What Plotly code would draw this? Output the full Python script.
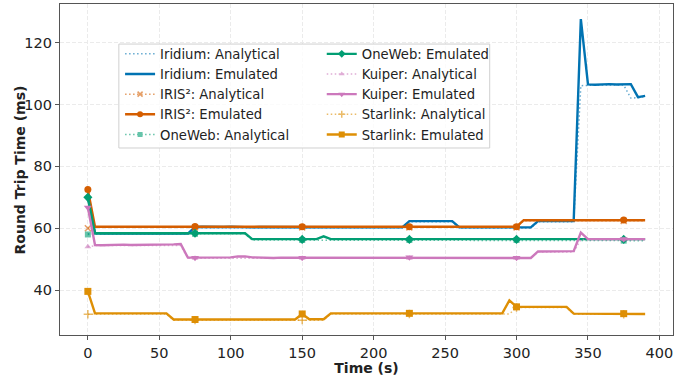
import plotly.graph_objects as go

time_s = [0, 5, 10, 15, 20, 25, 30, 35, 40, 45, 50, 55, 60, 65, 70, 75, 80, 85, 90, 95,
          100, 105, 110, 115, 120, 125, 130, 135, 140, 145, 150, 155, 160, 165, 170, 175, 180, 185, 190, 195,
          200, 205, 210, 215, 220, 225, 230, 235, 240, 245, 250, 255, 260, 265, 270, 275, 280, 285, 290, 295,
          300, 305, 310, 315, 320, 325, 330, 335, 340, 345, 350, 355, 360, 365, 370, 375, 380, 385, 390]

iridium_emulated = [70.0, 58.4, 58.3, 58.4, 58.4, 58.3, 58.4, 58.4, 58.3, 58.4,
                    58.4, 58.3, 58.4, 58.4, 58.3, 60.4, 60.5, 60.4, 60.5, 60.4,
                    60.5, 60.4, 60.4, 60.3, 60.4, 60.4, 60.3, 60.4, 60.4, 60.3,
                    60.4, 60.3, 60.4, 60.3, 60.3, 60.4, 60.3, 60.3, 60.4, 60.3,
                    60.3, 60.3, 60.4, 60.3, 60.3, 62.3, 62.3, 62.4, 62.3, 62.4,
                    62.3, 62.3, 60.3, 60.3, 60.2, 60.3, 60.3, 60.2, 60.3, 60.3,
                    60.3, 60.3, 60.3, 62.3, 62.4, 62.3, 62.4, 62.3, 62.3, 127.6,
                    106.5, 106.4, 106.6, 106.6, 106.5, 106.6, 106.6, 102.4, 102.8]
iridium_analytical = [58.2, 58.2, 58.2, 58.2, 58.2, 58.2, 58.2, 58.2, 58.2, 58.2,
                      58.2, 58.2, 58.2, 58.2, 58.2, 60.2, 60.2, 60.2, 60.2, 60.2,
                      60.2, 60.2, 60.2, 60.2, 60.2, 60.2, 60.2, 60.2, 60.2, 60.2,
                      60.2, 60.2, 60.2, 60.2, 60.2, 60.2, 60.2, 60.2, 60.2, 60.2,
                      60.2, 60.2, 60.2, 60.2, 60.2, 62.1, 62.1, 62.1, 62.1, 62.1,
                      62.1, 62.1, 60.1, 60.1, 60.1, 60.1, 60.1, 60.1, 60.1, 60.1,
                      60.1, 60.1, 60.1, 62.1, 62.1, 62.1, 62.1, 62.1, 62.1, 106.1,
                      106.3, 106.3, 106.3, 106.3, 106.3, 106.3, 102.1, 102.2, 102.6]

iris2_emulated = [72.5, 60.5, 60.5, 60.6, 60.5, 60.5, 60.6, 60.5, 60.5, 60.5,
                  60.6, 60.5, 60.5, 60.5, 60.5, 60.6, 60.5, 60.5, 60.5, 60.6,
                  60.5, 60.6, 60.5, 60.4, 60.5, 60.5, 60.5, 60.5, 60.5, 60.5,
                  60.5, 60.5, 60.5, 60.5, 60.5, 60.4, 60.5, 60.5, 60.5, 60.4,
                  60.4, 60.4, 60.5, 60.4, 60.4, 60.5, 60.5, 60.5, 60.4, 60.5,
                  60.5, 60.5, 60.4, 60.5, 60.5, 60.4, 60.5, 60.5, 60.5, 60.5,
                  60.5, 62.6, 62.6, 62.6, 62.6, 62.5, 62.6, 62.5, 62.5, 62.6,
                  62.5, 62.6, 62.6, 62.7, 62.6, 62.7, 62.6, 62.6, 62.6]
iris2_analytical = [60.0, 60.3, 60.3, 60.3, 60.3, 60.3, 60.3, 60.3, 60.3, 60.3,
                    60.3, 60.3, 60.3, 60.3, 60.3, 60.3, 60.3, 60.3, 60.3, 60.3,
                    60.3, 60.3, 60.3, 60.3, 60.3, 60.3, 60.3, 60.3, 60.3, 60.3,
                    60.3, 60.3, 60.3, 60.3, 60.3, 60.3, 60.3, 60.3, 60.3, 60.3,
                    60.3, 60.3, 60.3, 60.3, 60.3, 60.3, 60.3, 60.3, 60.3, 60.3,
                    60.3, 60.3, 60.3, 60.3, 60.3, 60.3, 60.3, 60.3, 60.3, 60.3,
                    60.3, 62.4, 62.4, 62.4, 62.4, 62.4, 62.4, 62.4, 62.4, 62.4,
                    62.4, 62.4, 62.4, 62.4, 62.4, 62.4, 62.4, 62.4, 62.4]

oneweb_emulated = [70.0, 58.4, 58.4, 58.4, 58.3, 58.4, 58.4, 58.5, 58.4, 58.4,
                   58.5, 58.4, 58.4, 58.5, 58.4, 58.4, 58.4, 58.5, 58.4, 58.4,
                   58.4, 58.3, 58.4, 56.5, 56.5, 56.5, 56.5, 56.6, 56.5, 56.5,
                   56.4, 56.5, 56.5, 57.4, 56.5, 56.5, 56.4, 56.5, 56.5, 56.4,
                   56.5, 56.5, 56.5, 56.4, 56.5, 56.4, 56.5, 56.5, 56.5, 56.4,
                   56.5, 56.5, 56.4, 56.5, 56.5, 56.5, 56.5, 56.6, 56.5, 56.5,
                   56.4, 56.5, 56.5, 56.5, 56.5, 56.5, 56.5, 56.5, 56.5, 56.5,
                   56.4, 56.5, 56.4, 56.5, 56.5, 56.4, 56.5, 56.4, 56.5]
oneweb_analytical = [58.0, 58.2, 58.2, 58.2, 58.2, 58.2, 58.2, 58.2, 58.2, 58.2,
                     58.2, 58.2, 58.2, 58.2, 58.2, 58.2, 58.2, 58.2, 58.2, 58.2,
                     58.2, 58.2, 58.2, 56.2, 56.2, 56.2, 56.2, 56.2, 56.2, 56.2,
                     56.2, 56.2, 56.2, 56.2, 56.2, 56.2, 56.2, 56.2, 56.2, 56.2,
                     56.2, 56.2, 56.2, 56.2, 56.2, 56.2, 56.2, 56.2, 56.2, 56.2,
                     56.2, 56.2, 56.2, 56.2, 56.2, 56.2, 56.2, 56.2, 56.2, 56.2,
                     56.2, 56.2, 56.2, 56.2, 56.2, 56.2, 56.2, 56.1, 56.1, 56.1,
                     56.1, 56.1, 56.0, 56.0, 56.0, 56.0, 56.0, 56.0, 56.0]

kuiper_emulated = [66.7, 54.6, 54.5, 54.6, 54.6, 54.7, 54.6, 54.6, 54.6, 54.6,
                   54.6, 54.6, 54.8, 54.9, 50.5, 50.5, 50.5, 50.4, 50.5, 50.6,
                   50.6, 50.9, 50.9, 50.6, 50.5, 50.5, 50.4, 50.5, 50.5, 50.4,
                   50.5, 50.4, 50.5, 50.4, 50.4, 50.4, 50.4, 50.4, 50.5, 50.4,
                   50.4, 50.4, 50.5, 50.5, 50.4, 50.6, 50.4, 50.4, 50.5, 50.4,
                   50.4, 50.5, 50.4, 50.4, 50.4, 50.4, 50.5, 50.4, 50.4, 50.5,
                   50.5, 50.4, 50.4, 52.5, 52.5, 52.5, 52.6, 52.6, 52.6, 58.6,
                   56.5, 56.5, 56.5, 56.6, 56.6, 56.5, 56.5, 56.5, 56.5]
kuiper_analytical = [54.0, 54.4, 54.4, 54.4, 54.4, 54.4, 54.4, 54.4, 54.4, 54.4,
                     54.4, 54.4, 54.4, 54.4, 50.3, 50.3, 50.3, 50.3, 50.3, 50.3,
                     50.3, 50.3, 50.3, 50.3, 50.3, 50.3, 50.3, 50.3, 50.3, 50.3,
                     50.3, 50.3, 50.3, 50.3, 50.3, 50.3, 50.3, 50.3, 50.3, 50.3,
                     50.3, 50.3, 50.3, 50.3, 50.3, 50.3, 50.3, 50.3, 50.3, 50.3,
                     50.3, 50.3, 50.3, 50.3, 50.3, 50.3, 50.3, 50.3, 50.3, 50.3,
                     50.3, 50.3, 50.3, 52.3, 52.3, 52.3, 52.3, 52.3, 52.3, 56.4,
                     56.3, 56.3, 56.3, 56.3, 56.3, 56.3, 56.3, 56.3, 56.3]

starlink_emulated = [39.6, 32.5, 32.5, 32.5, 32.6, 32.5, 32.5, 32.6, 32.5, 32.5,
                     32.5, 32.5, 30.5, 30.5, 30.5, 30.5, 30.7, 30.5, 30.5, 30.6,
                     30.6, 30.5, 30.5, 30.5, 30.5, 30.5, 30.5, 30.5, 30.5, 30.5,
                     32.3, 30.6, 30.6, 30.6, 32.5, 32.5, 32.5, 32.4, 32.5, 32.5,
                     32.5, 32.5, 32.5, 32.4, 32.4, 32.5, 32.4, 32.5, 32.5, 32.5,
                     32.4, 32.5, 32.5, 32.5, 32.5, 32.5, 32.5, 32.4, 32.5, 36.7,
                     34.6, 34.6, 34.6, 34.6, 34.6, 34.6, 34.6, 34.6, 32.4, 32.4,
                     32.4, 32.4, 32.4, 32.4, 32.4, 32.4, 32.4, 32.3, 32.3]
starlink_analytical = [32.2, 32.3, 32.3, 32.3, 32.3, 32.3, 32.3, 32.3, 32.3, 32.3,
                       32.3, 32.3, 30.3, 30.3, 30.3, 30.3, 30.3, 30.3, 30.3, 30.3,
                       30.3, 30.3, 30.3, 30.3, 30.3, 30.3, 30.3, 30.3, 30.3, 30.3,
                       30.3, 30.3, 30.3, 30.3, 32.3, 32.3, 32.3, 32.3, 32.3, 32.3,
                       32.3, 32.3, 32.3, 32.3, 32.3, 32.3, 32.3, 32.3, 32.3, 32.3,
                       32.3, 32.3, 32.3, 32.3, 32.3, 32.3, 32.3, 32.3, 32.3, 32.3,
                       34.4, 34.4, 34.4, 34.4, 34.4, 34.4, 34.4, 34.4, 32.2, 32.2,
                       32.2, 32.2, 32.2, 32.2, 32.2, 32.2, 32.2, 32.2, 32.2]

x_ticks = [0, 50, 100, 150, 200, 250, 300, 350, 400]
y_ticks = [40, 60, 80, 100, 120]

series = [
    ("Iridium: Analytical", iridium_analytical, "#0173b2", "analytical", None),
    ("Iridium: Emulated", iridium_emulated, "#0173b2", "emulated", None),
    ("IRIS²: Analytical", iris2_analytical, "#d55e00", "analytical", "x-thin"),
    ("IRIS²: Emulated", iris2_emulated, "#d55e00", "emulated", "circle"),
    ("OneWeb: Analytical", oneweb_analytical, "#029e73", "analytical", "square"),
    ("OneWeb: Emulated", oneweb_emulated, "#029e73", "emulated", "diamond"),
    ("Kuiper: Analytical", kuiper_analytical, "#cc78bc", "analytical", "triangle-up"),
    ("Kuiper: Emulated", kuiper_emulated, "#cc78bc", "emulated", "triangle-down"),
    ("Starlink: Analytical", starlink_analytical, "#de8f05", "analytical", "cross-thin"),
    ("Starlink: Emulated", starlink_emulated, "#de8f05", "emulated", "square"),
]

MARK_EVERY = 15
fig = go.Figure()

for idx, (name, vals, color, kind, sym) in enumerate(series):
    if kind == "emulated":
        line = dict(color=color, width=2.4)
        opac = 1.0
        msize = 7
    else:
        line = dict(color=color, width=1.5, dash="1.5px,2.5px")
        opac = 0.6
        msize = 6
    fig.add_trace(go.Scatter(x=time_s, y=vals, mode="lines", line=line, opacity=opac,
                             showlegend=False, hoverinfo="skip"))
    if sym is not None:
        mline = dict(color=color, width=1.5) if "thin" in sym else dict(width=0)
        fig.add_trace(go.Scatter(x=time_s[::MARK_EVERY], y=vals[::MARK_EVERY], mode="markers",
                                 marker=dict(symbol=sym, size=msize, color=color, line=mline),
                                 opacity=opac, showlegend=False, hoverinfo="skip"))
    legend_id = "legend" if idx < 5 else "legend2"
    fig.add_trace(go.Scatter(
        x=[None], y=[None], name=name,
        mode="lines+markers" if sym else "lines",
        line=line, opacity=opac,
        marker=dict(symbol=sym if sym else "circle", size=msize - 1, color=color,
                    line=dict(color=color, width=1.5) if (sym and "thin" in sym) else dict(width=0)),
        legend=legend_id, showlegend=True))

# legend frame box (paper coords)
fig.add_shape(type="rect", xref="paper", yref="paper", x0=0.096, x1=0.701, y0=0.565, y1=0.879,
              line=dict(color="#d0d0d0", width=1), fillcolor="rgba(255,255,255,0.8)", layer="above")

font_family = "DejaVu Sans"
legend_common = dict(bgcolor="rgba(0,0,0,0)", borderwidth=0,
                     font=dict(family=font_family, size=13.2, color="#222"),
                     yanchor="top", xanchor="left", tracegroupgap=0)

fig.add_annotation(text="<b>Round Trip Time (ms)</b>", xref="paper", yref="paper",
                   x=-0.0653, y=0.5, xanchor="center", yanchor="middle", textangle=-90,
                   showarrow=False, font=dict(family=font_family, size=14, color="#222"))

fig.update_layout(
    width=682, height=379,
    margin=dict(l=60, r=9, t=4, b=44),
    plot_bgcolor="white", paper_bgcolor="white",
    font=dict(family=font_family, size=14, color="#222"),
    legend=dict(x=0.098, y=0.895, **legend_common),
    legend2=dict(x=0.427, y=0.895, **legend_common),
    xaxis=dict(range=[-19.5, 409.5], tickvals=x_ticks, ticktext=[str(v) for v in x_ticks],
               showgrid=True, gridcolor="#ebebeb", griddash="4px,2px", gridwidth=1,
               showline=True, mirror=True, linecolor="#555", linewidth=1.2,
               ticks="outside", ticklen=4, tickcolor="#555", zeroline=False,
               tickfont=dict(size=14.5),
               title=dict(text="<b>Time (s)</b>", font=dict(size=14), standoff=2)),
    yaxis=dict(range=[25.5, 132.5], tickvals=y_ticks, ticktext=[str(v) for v in y_ticks],
               showgrid=True, gridcolor="#ebebeb", griddash="4px,2px", gridwidth=1,
               showline=True, mirror=True, linecolor="#555", linewidth=1.2,
               ticks="outside", ticklen=4, tickcolor="#555", zeroline=False,
               tickfont=dict(size=14.5)),
)

fig.write_html("out.html", config={"displayModeBar": False},
               post_script="document.body.style.margin='0';")
